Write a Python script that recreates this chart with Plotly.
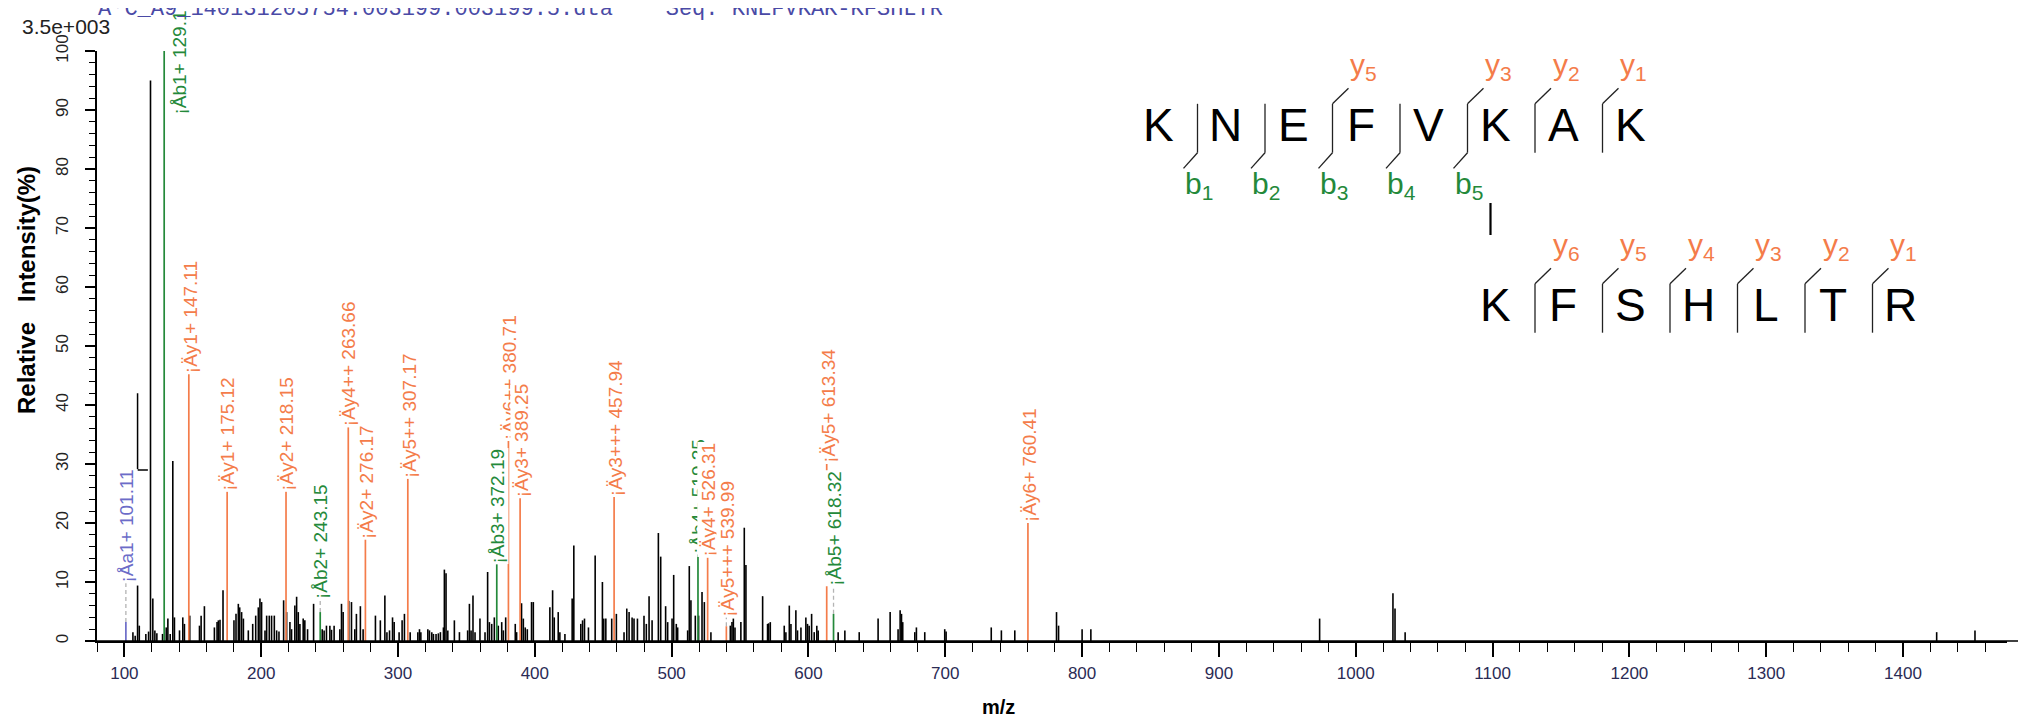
import plotly.graph_objects as go

# ---------------- data ----------------
peak_mz = [106.25, 107.9, 109.65, 110.9, 115.7, 117.7, 119.1, 120.8, 122.3, 123.75, 127.9, 130.6, 131.8,
           133.5, 135.4, 136.6, 140.3, 142.7, 143.9, 147.8, 154.9, 156.1, 158.5, 165.8, 167.75, 168.7,
           169.9, 172.1, 180.1, 181.6, 183.3, 184.3, 185.7, 187.0, 190.6, 193.8, 196.0, 197.9, 199.1,
           200.3, 202.8, 204.0, 205.9, 207.6, 209.6, 211.3, 213.0, 216.4, 218.6, 221.0, 222.2, 224.6,
           225.9, 227.1, 228.3, 230.7, 231.9, 233.9, 238.3, 244.6, 246.0, 247.7, 250.2, 251.4, 253.3,
           257.5, 258.7, 259.9, 264.0, 266.0, 268.4, 269.6, 272.5, 274.5, 283.5, 287.1,
           290.4, 291.9, 293.8, 296.0, 297.2, 300.8, 303.0, 304.7, 308.9, 314.5, 315.7, 316.7, 321.8,
           323.0, 324.7, 325.9, 327.8, 329.5, 331.0, 333.2, 333.9, 335.1, 336.4, 341.2, 344.9, 350.9,
           352.2, 353.4, 354.8, 356.3, 359.9, 363.6, 365.5, 366.8, 368.5, 370.4, 373.3, 375.8, 377.0,
           378.7, 385.7, 386.7, 390.3, 391.6, 393.0, 394.5, 397.6, 398.9, 411.0, 413.0, 414.2, 417.1,
           418.3, 422.0, 427.3, 428.5, 433.6, 434.9, 436.3, 439.2, 444.1, 449.4, 450.4, 451.9, 456.2,
           459.6, 465.2, 467.2, 468.9, 471.1, 472.5, 475.0, 479.8, 481.5, 483.5, 485.7, 490.3, 492.0,
           495.6, 497.1, 500.3, 501.5, 503.4, 504.4, 511.7, 512.9, 514.1, 517.3, 519.7, 522.2, 523.9,
           528.7, 542.9, 544.1, 545.1, 546.3, 550.6, 553.1, 554.3, 566.5, 570.1, 570.9, 572.1, 582.3,
           583.5, 586.0, 587.2, 590.8, 592.0, 594.5, 598.1, 599.3, 600.5, 602.3, 604.2, 606.1, 607.1,
           621.7, 626.6, 637.1, 650.9, 659.7, 665.5, 667.0, 668.0, 668.9, 677.7, 678.9, 685.0, 699.6,
           700.6, 733.6, 741.0, 750.8, 781.3, 782.8, 800.0, 806.4, 973.6, 1027.2, 1028.7, 1036.1,
           1424.6, 1452.6]
peak_int = [1.5, 0.9, 9.4, 2.6, 1.2, 1.6, 95.0, 7.2, 1.8, 1.3, 1.2, 2.3, 3.8,
            1.2, 30.5, 4.0, 1.8, 4.0, 2.9, 4.3, 2.6, 4.3, 5.9, 2.3, 3.2, 3.5,
            3.6, 8.6, 3.5, 4.6, 6.3, 5.7, 4.9, 3.8, 1.8, 2.9, 4.3, 5.7, 7.2,
            6.6, 1.8, 4.3, 4.3, 4.3, 4.3, 1.8, 1.6, 6.9, 4.9, 3.2, 2.0, 6.0,
            7.5, 4.9, 2.9, 3.8, 3.5, 2.0, 6.3, 2.0, 1.8, 2.6, 2.6, 1.9, 2.6,
            2.0, 6.3, 4.9, 6.8, 6.6, 2.0, 4.6, 5.9, 2.0, 4.3, 3.5,
            7.7, 1.5, 1.8, 4.0, 3.2, 1.5, 3.5, 4.6, 1.5, 1.5, 2.0, 1.5, 2.0,
            1.8, 1.5, 1.2, 1.2, 1.3, 1.5, 2.3, 12.1, 11.5, 1.8, 3.5, 1.5, 1.8,
            6.3, 1.8, 7.7, 1.5, 3.8, 1.5, 11.7, 3.2, 2.9, 4.0, 2.6, 3.2, 1.8,
            4.0, 2.9, 1.5, 6.4, 3.8, 2.3, 2.0, 6.6, 6.6, 5.7, 8.6, 4.0, 4.9,
            1.5, 1.2, 7.2, 16.2, 2.9, 3.5, 3.8, 2.3, 14.5, 10.0, 3.8, 3.8, 3.8,
            4.6, 1.5, 5.5, 4.9, 4.0, 3.8, 3.8, 4.3, 2.9, 7.6, 3.5, 18.3, 14.3,
            5.9, 3.2, 3.8, 11.2, 2.9, 2.3, 1.8, 12.7, 6.9, 4.3, 4.3, 8.3, 6.6,
            1.5, 2.6, 3.2, 3.8, 2.3, 3.2, 19.2, 12.9, 7.6, 2.9, 3.0, 3.2, 2.6,
            1.5, 6.0, 2.9, 5.2, 1.8, 2.3, 4.0, 2.9, 2.6, 4.6, 1.5, 2.6, 1.8,
            1.5, 1.8, 1.5, 3.8, 4.9, 2.0, 5.2, 4.6, 3.2, 1.5, 2.3, 1.5, 2.0,
            1.6, 2.3, 1.8, 1.8, 4.9, 2.6, 2.0, 2.0, 3.8, 8.1, 5.5, 1.5,
            1.5, 1.8]

# annotated fragment ions
ion_mz = [101.11, 129.10, 147.11, 175.12, 218.15, 243.15, 263.66, 276.17, 307.17, 372.19,
          380.71, 389.25, 457.94, 519.25, 526.31, 539.99, 613.34, 618.32, 760.41]
ion_int = [3.2, 100.0, 45.2, 25.3, 25.3, 4.9, 36.2, 17.2, 27.5, 13.0,
           33.9, 24.2, 24.4, 14.7, 14.1, 2.5, 30.0, 4.6, 20.0]
ion_label_y = [9.8, 89.0, 45.2, 25.3, 25.3, 6.9, 36.2, 17.2, 27.5, 13.0,
               33.9, 24.2, 24.4, 14.7, 14.1, 4.0, 30.0, 9.2, 20.0]
ion_type = ['a', 'b', 'y', 'y', 'y', 'b', 'y', 'y', 'y', 'b',
            'y', 'y', 'y', 'b', 'y', 'y', 'y', 'b', 'y']
ion_label = ['¡Åa1+ 101.11', '¡Åb1+ 129.1', '¡Äy1+ 147.11', '¡Äy1+ 175.12', '¡Äy2+ 218.15',
             '¡Åb2+ 243.15', '¡Äy4++ 263.66', '¡Äy2+ 276.17', '¡Äy5++ 307.17', '¡Åb3+ 372.19',
             '¡Äy6++ 380.71', '¡Äy3+ 389.25', '¡Äy3+++ 457.94', '¡Åb4+ 519.25', '¡Äy4+ 526.31',
             '¡Äy5+++ 539.99', '¡Äy5+ 613.34', '¡Åb5+ 618.32', '¡Äy6+ 760.41']

# odd black leader segment near m/z 110
leader_x = [109.65, 109.65, 117.2]
leader_y = [42.0, 29.0, 29.0]

# peptide diagram
pep1 = "KNEFVKAK"
pep2 = "KFSHLTR"
pep1_b = [1, 2, 3, 4, 5]          # b-ion number after residue i
pep1_y = {3: 5, 5: 3, 6: 2, 7: 1}  # residue index -> y number (cleavage before it)
pep2_y = {1: 6, 2: 5, 3: 4, 4: 3, 5: 2, 6: 1}

title_text = "ÄºC_A9_140131205754.003199.003199.5.dta    Seq: KNEFVKAK-KFSHLTR"
scale_text = "3.5e+003"

# ---------------- styling ----------------
W, H = 2026, 714
L, R, T, B = 89, 27, 43, 81
PW, PH = W - L - R, H - T - B
X_RANGE = [80, 1476]
ORANGE = "#f47c4a"
GREEN = "#24893a"
BLUE = "#6c6cc8"
GREY = "#b4b4b4"
col = {'a': BLUE, 'b': GREEN, 'y': ORANGE}
SANS = "Liberation Sans, Arial, sans-serif"


def px(x):
    return (x - L) / PW


def py(y):
    return (H - B - y) / PH


fig = go.Figure()

# black peaks
bx, by = [], []
for m, h in zip(peak_mz, peak_int):
    bx += [m, m, None]
    by += [0, h, None]
fig.add_trace(go.Scatter(x=bx, y=by, mode='lines', line=dict(color='black', width=1.6),
                         hoverinfo='skip', showlegend=False))
fig.add_trace(go.Scatter(x=leader_x, y=leader_y, mode='lines', line=dict(color='black', width=1.5),
                         hoverinfo='skip', showlegend=False))

# dashed connectors
dx, dy = [], []
for m, h, ly in zip(ion_mz, ion_int, ion_label_y):
    if ly > h + 0.3:
        dx += [m, m, None]
        dy += [h, ly, None]
fig.add_trace(go.Scatter(x=dx, y=dy, mode='lines', line=dict(color=GREY, width=1.3, dash='4px,3px'),
                         hoverinfo='skip', showlegend=False))

# coloured ion lines
for t in ['a', 'b', 'y']:
    cx, cy = [], []
    for m, h, tt in zip(ion_mz, ion_int, ion_type):
        if tt == t:
            cx += [m, m, None]
            cy += [0, h, None]
    fig.add_trace(go.Scatter(x=cx, y=cy, mode='lines', line=dict(color=col[t], width=1.7),
                             hoverinfo='skip', showlegend=False))

annotations = []
for m, ly, t, lab in zip(ion_mz, ion_label_y, ion_type, ion_label):
    beside = t == 'b' and ly > 50
    annotations.append(dict(
        x=m, y=ly, xref='x', yref='y', text=lab, showarrow=False, textangle=-90,
        xanchor='left' if beside else 'center', yanchor='bottom',
        xshift=4 if beside else 1, bgcolor='white', borderpad=0,
        font=dict(family=SANS, size=19, color=col[t])))

# header texts
annotations.append(dict(x=px(88), y=py(16), xref='paper', yref='paper', text=title_text,
                        showarrow=False, xanchor='left', yanchor='bottom',
                        font=dict(family="Liberation Mono, Courier New, monospace", size=22,
                                  color="#4a4aa6")))
annotations.append(dict(x=px(12), y=py(19), xref='paper', yref='paper', text=scale_text,
                        showarrow=False, xanchor='left', yanchor='middle',
                        font=dict(family=SANS, size=21, color="#222222")))
annotations.append(dict(x=px(18), y=py(282), xref='paper', yref='paper',
                        text="<b>Relative&nbsp;&nbsp;&nbsp;Intensity(%)</b>", textangle=-90,
                        showarrow=False, xanchor='center', yanchor='middle',
                        font=dict(family=SANS, size=24, color="black")))
annotations.append(dict(x=px(990), y=py(699), xref='paper', yref='paper', text="<b>m/z</b>",
                        showarrow=False, xanchor='center', yanchor='middle',
                        font=dict(family=SANS, size=20, color="black")))

shapes = []
# axis line extensions
shapes.append(dict(type='line', xref='paper', yref='paper', x0=px(78), x1=px(W), y0=0, y1=0,
                   line=dict(color='black', width=1.5)))

# ---- peptide diagram ----
X0, STEP, SEP_OFF = 1150.0, 67.5, 28.0
ROW1_Y, ROW2_Y = 117.0, 297.0
LET_SIZE, LAB_SIZE = 46, 30
LINE = dict(color='#222222', width=1.3)


def draw_row(seq, start_x, cy, y_map, b_list):
    centers = [start_x + STEP * i for i in range(len(seq))]
    for c, ch in zip(centers, seq):
        annotations.append(dict(x=px(c), y=py(cy), xref='paper', yref='paper', text=ch,
                                showarrow=False, xanchor='center', yanchor='middle',
                                font=dict(family=SANS, size=LET_SIZE, color='black')))
    top, bot = cy - 21.2, cy + 27.7
    for i in range(1, len(seq)):
        bx_ = centers[i] - SEP_OFF
        has_y = i in y_map
        has_b = i in b_list
        if not (has_y or has_b):
            continue
        shapes.append(dict(type='line', xref='paper', yref='paper', x0=px(bx_), x1=px(bx_),
                           y0=py(top), y1=py(bot), line=LINE))
        if has_y:
            shapes.append(dict(type='line', xref='paper', yref='paper', x0=px(bx_), x1=px(bx_ + 16),
                               y0=py(top), y1=py(top - 15.6), line=LINE))
            annotations.append(dict(x=px(bx_ + 31), y=py(top - 37), xref='paper', yref='paper',
                                    text="y<sub>%d</sub>" % y_map[i], showarrow=False,
                                    xanchor='center', yanchor='middle',
                                    font=dict(family=SANS, size=LAB_SIZE, color=ORANGE)))
        if has_b:
            shapes.append(dict(type='line', xref='paper', yref='paper', x0=px(bx_), x1=px(bx_ - 14),
                               y0=py(bot), y1=py(bot + 15.7), line=LINE))
            annotations.append(dict(x=px(bx_ + 1), y=py(bot + 33), xref='paper', yref='paper',
                                    text="b<sub>%d</sub>" % i, showarrow=False,
                                    xanchor='center', yanchor='middle',
                                    font=dict(family=SANS, size=LAB_SIZE, color=GREEN)))
    return centers


c1 = draw_row(pep1, X0, ROW1_Y, pep1_y, pep1_b)
c2 = draw_row(pep2, c1[5], ROW2_Y, pep2_y, [])
# cross-link bar
shapes.append(dict(type='line', xref='paper', yref='paper', x0=px(c1[5] - 5), x1=px(c1[5] - 5),
                   y0=py(195), y1=py(227), line=dict(color='black', width=2.2)))

fig.update_layout(
    width=W, height=H, margin=dict(l=L, r=R, t=T, b=B, pad=0),
    paper_bgcolor='white', plot_bgcolor='white', showlegend=False,
    annotations=annotations, shapes=shapes,
    xaxis=dict(range=X_RANGE, showline=True, linecolor='black', linewidth=1.5, showgrid=False,
               zeroline=False, ticks='outside', tick0=0, dtick=100, ticklen=14, tickwidth=1.5,
               tickcolor='black', ticklabelstandoff=2,
               tickfont=dict(family=SANS, size=17, color='#2b2b55'),
               minor=dict(ticks='outside', tick0=0, dtick=20, ticklen=9, tickwidth=1.3,
                          tickcolor='black', showgrid=False)),
    yaxis=dict(range=[0, 100], showline=True, linecolor='black', linewidth=1.5, showgrid=False,
               zeroline=False, ticks='outside', tick0=0, dtick=10, ticklen=10, tickwidth=1.5,
               tickcolor='black', tickangle=-90, ticklabelstandoff=10,
               tickfont=dict(family=SANS, size=17, color='#222222'),
               minor=dict(ticks='outside', tick0=0, dtick=2, ticklen=6, tickwidth=1.2,
                          tickcolor='black', showgrid=False)),
)

fig.write_html("out.html")
